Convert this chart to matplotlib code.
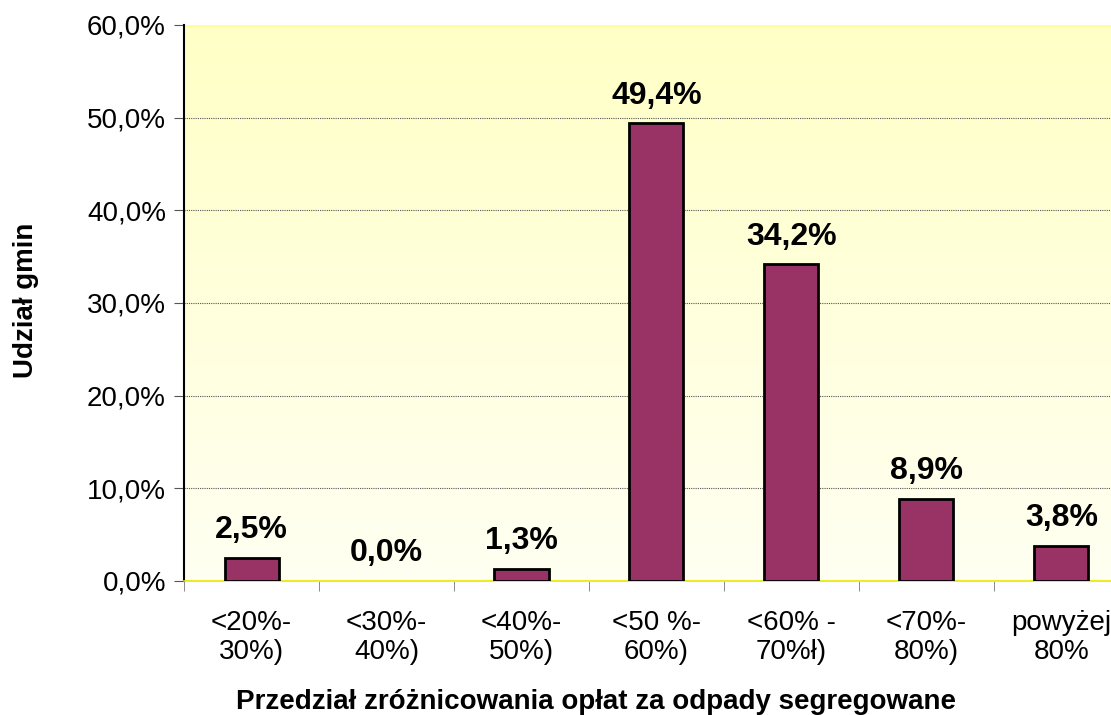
import numpy as np
import matplotlib.pyplot as plt
from matplotlib.colors import LinearSegmentedColormap

categories = ["<20%-\n30%)", "<30%-\n40%)", "<40%-\n50%)", "<50 %-\n60%)",
              "<60% -\n70%ł)", "<70%-\n80%)", "powyżej\n80%"]
values = [2.5, 0.0, 1.3, 49.4, 34.2, 8.9, 3.8]
yticks = [0, 10, 20, 30, 40, 50, 60]

plt.rcParams['font.family'] = ['Liberation Sans', 'DejaVu Sans']

fig = plt.figure(figsize=(11.11, 7.15), dpi=100)
ax = fig.add_axes([184 / 1111, 134 / 715, 945 / 1111, 556 / 715])

x = np.arange(len(values))
ax.set_xlim(-0.5, len(values) - 0.5)
ax.set_ylim(0, 60)

# yellow gradient background
grad = np.linspace(0, 1, 256)[:, None]
cmap = LinearSegmentedColormap.from_list('bg', ['#FFFFF2', '#FFFFC6'])
ax.imshow(grad, extent=(-0.5, len(values) - 0.5, 0, 60), origin='lower',
          aspect='auto', cmap=cmap, zorder=0)

ax.set_yticks(yticks)
ax.set_yticklabels([f"{v:.1f}%".replace('.', ',') for v in yticks], fontsize=20)
ax.yaxis.grid(True, linestyle=(0, (1, 1)), color='#555555', linewidth=0.8)
ax.set_axisbelow(True)

bars = ax.bar(x, values, width=0.4, color='#993366', edgecolor='black', linewidth=2, zorder=3)
for b, v in zip(bars, values):
    if v == 0:
        b.set_visible(False)
for xi, v in zip(x, values):
    ax.annotate(f"{v:.1f}%".replace('.', ','), (xi, v), xytext=(0, 9),
                textcoords='offset points', ha='center', va='bottom',
                fontsize=23, fontweight='bold')

ax.set_xticks(x)
ax.set_xticklabels(categories, fontsize=20, linespacing=1.15)
ax.set_xticks(np.arange(-0.5, len(values)), minor=True)
ax.tick_params(axis='x', which='major', length=0, pad=21)
ax.tick_params(axis='x', which='minor', length=7, color='#777777')
ax.tick_params(axis='y', length=7, color='#555555', pad=6)

for s in ['top', 'right']:
    ax.spines[s].set_visible(False)
ax.spines['bottom'].set_color('#E8E800')
ax.spines['bottom'].set_linewidth(1.2)
ax.spines['left'].set_color('black')
ax.spines['left'].set_linewidth(1.5)
ax.axhline(60, color='#FFFF99', linewidth=2, zorder=1)

ax.set_xlabel("Przedział zróżnicowania opłat za odpady segregowane",
              fontsize=20, fontweight='bold')
ax.set_ylabel("Udział gmin", fontsize=20, fontweight='bold')
ax.xaxis.set_label_coords((596 - 184) / 945, -(689 - 581) / 556)
ax.yaxis.set_label_coords((39 - 184) / 945, 0.505)

fig.savefig('out.png', dpi=100)
